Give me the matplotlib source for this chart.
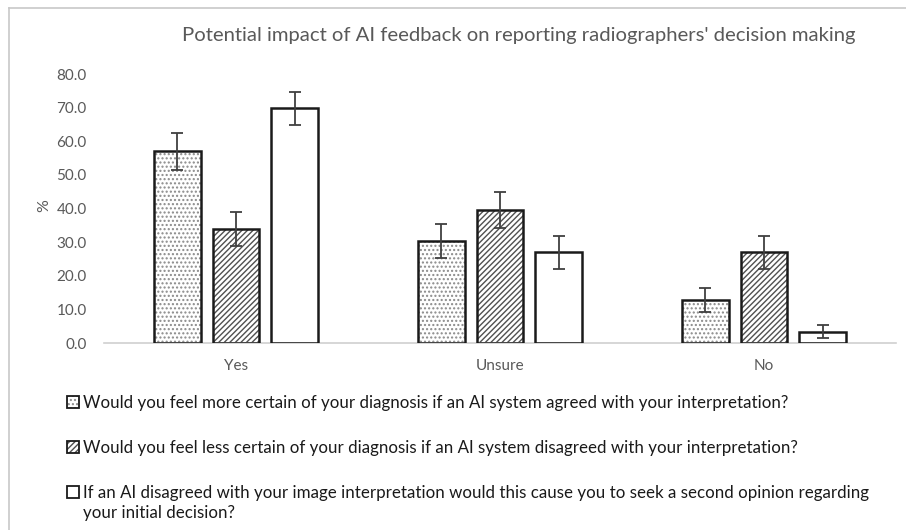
import matplotlib
matplotlib.use("Agg")
import matplotlib.pyplot as plt
import numpy as np
from matplotlib.patches import Patch
from matplotlib.lines import Line2D
from matplotlib.legend_handler import HandlerTuple

plt.rcParams["font.family"] = ["Lato", "DejaVu Sans"]
plt.rcParams["hatch.linewidth"] = 1.0

categories = ["Yes", "Unsure", "No"]
series_labels = [
    "Would you feel more certain of your diagnosis if an AI system agreed with your interpretation?",
    "Would you feel less certain of your diagnosis if an AI system disagreed with your interpretation?",
    "If an AI disagreed with your image interpretation would this cause you to seek a second opinion regarding",
]
label_wrap = "your initial decision?"   # second line of the third legend entry
more_certain = [57.0, 30.3, 12.8]
less_certain = [33.9, 39.6, 27.0]
second_opinion = [69.8, 27.0, 3.5]
err_more = [5.4, 5.0, 3.6]
err_less = [5.0, 5.2, 4.8]
err_second = [5.0, 4.8, 2.0]

TEXT = "#595959"
values = [more_certain, less_certain, second_opinion]
errors = [err_more, err_less, err_second]
hatches = ["....", "//////", ""]
hatch_cols = ["#8a8a8a", "#505050", "white"]

fig = plt.figure(figsize=(9.06, 5.3), dpi=100)
ax = fig.add_axes([104 / 906, 1 - 343.3 / 530, 792 / 906, 269.3 / 530])

x = np.arange(len(categories))
bw = 0.176
step = 0.2216
handles = []
for i, (vals, errs) in enumerate(zip(values, errors)):
    pos = x + (i - 1) * step
    ax.bar(pos, vals, bw, color="white", edgecolor=hatch_cols[i],
           hatch=hatches[i], linewidth=0, zorder=2)
    ax.bar(pos, vals, bw, fill=False, edgecolor="#1a1a1a",
           linewidth=1.8, zorder=3)
    ax.errorbar(pos, vals, yerr=errs, fmt="none", ecolor="#404040",
                elinewidth=1.3, capsize=4, capthick=1.3, zorder=4)
    h1 = Patch(facecolor="white", edgecolor=hatch_cols[i], hatch=hatches[i], linewidth=0)
    h2 = Patch(fill=False, edgecolor="#1a1a1a", linewidth=1.3)
    handles.append((h1, h2))

ax.set_xlim(-0.5, 2.5)
ax.set_ylim(0, 80)
ax.set_yticks(np.arange(0, 81, 10))
ax.set_yticklabels([f"{v:.1f}" for v in np.arange(0, 81, 10)])
ax.set_xticks(x)
ax.set_xticklabels(categories)
for s in ("top", "right", "left"):
    ax.spines[s].set_visible(False)
ax.spines["bottom"].set_color("#d0d0d0")
ax.spines["bottom"].set_linewidth(1.2)
ax.tick_params(length=0, labelsize=11, colors=TEXT)
ax.tick_params(axis="y", pad=12.5)
ax.tick_params(axis="x", pad=11)
ax.set_ylabel("%", fontsize=11.5, color=TEXT)
ax.yaxis.set_label_coords(-53 / 792, 0.513)

fig.text(519 / 906, 1 - 35 / 530, "Potential impact of AI feedback on reporting radiographers' decision making",
         ha="center", va="center", fontsize=14.6, color=TEXT)

leg = fig.legend(handles, series_labels, loc="upper left",
                 bbox_to_anchor=(67 / 906, 1 - 395 / 530),
                 frameon=False, fontsize=12.2, labelcolor="#1a1a1a",
                 handlelength=0.72, handleheight=0.72, handletextpad=0.2,
                 labelspacing=1.71, borderpad=0, borderaxespad=0,
                 handler_map={tuple: HandlerTuple(ndivide=1)})

# wrapped continuation of the last legend label, aligned under its first line
fig.canvas.draw()
bb = leg.get_texts()[2].get_window_extent().transformed(fig.transFigure.inverted())
fig.text(bb.x0, bb.y0 - 20 / 530, label_wrap, ha="left", va="bottom",
         fontsize=12.2, color="#1a1a1a")

# light frame (top and left edges of the chart area)
fig.add_artist(Line2D([9 / 906, 1], [1 - 8 / 530] * 2, color="#c8c8c8", linewidth=1.2))
fig.add_artist(Line2D([9 / 906] * 2, [0, 1 - 8 / 530], color="#c8c8c8", linewidth=1.2))

fig.savefig("out.png", dpi=100, facecolor="white")
